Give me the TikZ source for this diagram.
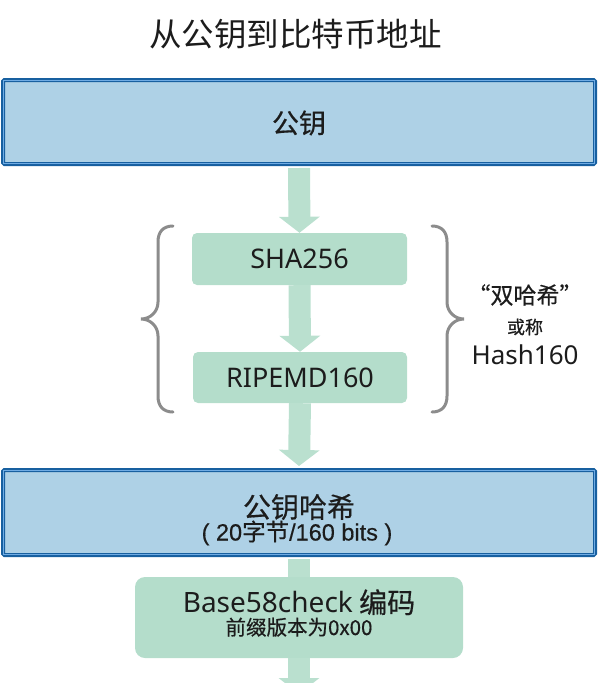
\documentclass[tikz,border=0pt]{standalone}
\usepackage{fontspec}
\usepackage{xcolor}
\usepackage{tikz}
\usetikzlibrary{shapes,arrows.meta,positioning,calc}
\setmainfont{Noto Sans CJK SC}
\newfontfamily\cjkmid{Noto Sans CJK SC}[FakeBold=0.5]
\newfontfamily\latinfont{Noto Sans}
\newfontfamily\arialfont{Liberation Sans}[FakeBold=0.4]
\newcommand{\pxsize}[1]{\fontsize{#1}{#1}\selectfont}

\definecolor{keyblue}{RGB}{174,209,230}
\definecolor{keyborder}{RGB}{24,96,160}
\definecolor{keyinner}{RGB}{112,172,228}
\definecolor{hashgreen}{RGB}{180,221,203}
\definecolor{flowgreen}{RGB}{186,224,207}
\definecolor{bracegray}{RGB}{140,140,140}
\definecolor{inktext}{RGB}{28,28,28}

\tikzset{
    keybox/.style={draw=keyborder, fill=keyblue, line width=4pt, rounded corners=1.5pt,
        minimum width=592pt, inner sep=0pt},
    keyline/.style={draw=keyinner, line width=1.2pt},
    hashbox/.style={fill=hashgreen, rounded corners=5pt, inner sep=0pt},
    label/.style={text=inktext, inner sep=0pt, anchor=center},
    flow/.style={draw=flowgreen, line width=22pt, -{Triangle[width=40pt,length=16pt]}},
    flowline/.style={draw=flowgreen, line width=22pt},
    brace/.style={draw=bracegray, line width=3pt, line cap=round},
}

\begin{document}
\begin{tikzpicture}[x=1pt,y=-1pt]
    \useasboundingbox (0,0) rectangle (600,683);
    \clip (0,0) rectangle (600,683);

    % Title
    \node[label, font=\pxsize{32.5}] (title) at (295.5,34) {从公钥到比特币地址};

    % Boxes
    \node[keybox, minimum height=84pt] (pub) at (299,122) {};
    \node[hashbox, minimum width=215pt, minimum height=52pt] (sha) at (299.5,259) {};
    \node[hashbox, minimum width=214pt, minimum height=51pt] (ripe) at (300,377.5) {};
    \node[keybox, minimum height=85pt] (pkh) at (299,512.5) {};
    \node[hashbox, rounded corners=10pt, minimum width=328pt, minimum height=81pt] (b58) at (299,617.5) {};
    \coordinate (out) at (299,694);

    % light inner edge of the blue boxes
    \draw[keyline] ([xshift=2.6pt,yshift=-2.6pt]pub.north west) rectangle ([xshift=-2.6pt,yshift=2.6pt]pub.south east);
    \draw[keyline] ([xshift=2.6pt,yshift=-2.6pt]pkh.north west) rectangle ([xshift=-2.6pt,yshift=2.6pt]pkh.south east);

    % Flow arrows
    \draw[flow] ([yshift=-2pt]pub.south) -- (sha.north);
    \draw[flow] (sha.south) -- (ripe.north);
    \draw[flow] (ripe.south) -- ([yshift=2pt]pkh.north);
    \draw[flowline] ([yshift=-2pt]pkh.south) -- (b58.north);
    \draw[flow] (b58.south) -- (out);

    % Labels
    \node[label, font=\cjkmid\pxsize{27}] (publbl) at (299,123) {公钥};
    \node[label, font=\latinfont\pxsize{27}] (shalbl) at (299.5,259) {SHA256};
    \node[label, font=\latinfont\pxsize{27}] (ripelbl) at (300,377.5) {RIPEMD160};
    \node[label, font=\cjkmid\pxsize{28}] (pkhlbl) at (299,507) {公钥哈希};
    \node[label, font=\cjkmid\pxsize{23.5}] (pkhsub) at (297,533)
        {{\arialfont ( 20}字节{\arialfont /160 bits )}};
    \node[label, align=center, font=\pxsize{28}] (b58lbl) at (299,613)
        {{\latinfont Base58check} {\cjkmid 编码}\\[-6pt]{\cjkmid\pxsize{20.5}前缀版本为0x00}};

    % Braces round the two hashes
    \draw[brace] (173,226) .. controls (163,226) and (158,232) .. (158,242) -- (158,302)
        .. controls (158,312) and (150,319) .. (141,319)
        .. controls (150,319) and (158,326) .. (158,336) -- (158,396)
        .. controls (158,406) and (163,412) .. (173,412);
    \draw[brace] (432,226) .. controls (442,226) and (447,232) .. (447,242) -- (447,302)
        .. controls (447,312) and (455,319) .. (464,319)
        .. controls (455,319) and (447,326) .. (447,336) -- (447,396)
        .. controls (447,406) and (442,412) .. (432,412);

    \node[label, font=\cjkmid\pxsize{23}] (dbl) at (525,295) {“双哈希”};
    \node[label, font=\cjkmid\pxsize{18}] (aka) at (525,327) {或称};
    \node[label, font=\latinfont\pxsize{26}] (h160) at (525,355) {Hash160};
\end{tikzpicture}
\end{document}
